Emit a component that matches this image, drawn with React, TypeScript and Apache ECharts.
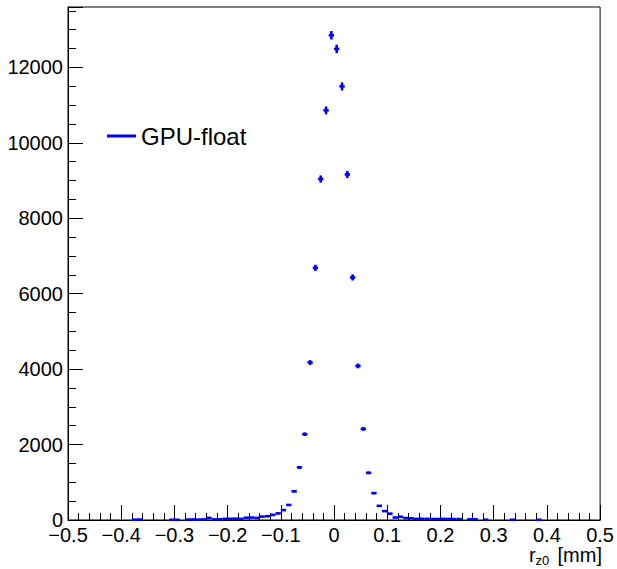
import React, { useEffect, useRef } from "react";
import * as echarts from "echarts";

// Histogram: 100 bins of width 0.01 from -0.5 to 0.5 (counts)
const BIN_LOW = -0.5;
const BIN_WIDTH = 0.01;
const counts = [
  0, 0, 0, 0, 0, 0, 0, 0, 0, 0,
  0, 0, 8, 12, 0, 0, 0, 0, 0, 6,
  6, 0, 12, 15, 10, 15, 55, 15, 18, 30,
  32, 35, 30, 60, 65, 55, 90, 100, 135, 175,
  262, 398, 760, 1395, 2275, 4175, 6685, 9040, 10860, 12850,
  12490, 11495, 9160, 6430, 4085, 2415, 1250, 712, 375, 235,
  168, 66, 85, 50, 45, 30, 32, 30, 25, 26,
  30, 28, 25, 24, 0, 20, 20, 0, 8, 0,
  0, 0, 0, 6, 0, 0, 0, 0, 6, 0,
  0, 0, 0, 0, 0, 0, 0, 0, 0, 0,
];
const seriesName = "GPU-float";
const xMin = -0.5;
const xMax = 0.5;
const xInterval = 0.1;
const yMin = 0;
const yMax = 13600;
const yInterval = 2000;
const yMinorInterval = 500;

const FONT = '"Liberation Sans", Arial, Helvetica, sans-serif';
const BLUE = "#0000ff";

function fmtX(v: number): string {
  const r = Math.round(v * 10) / 10;
  if (Math.abs(r) < 1e-9) return "0";
  const s = Math.abs(r).toFixed(1);
  return r < 0 ? "\u2212" + s : s;
}

export default function App() {
  const ref = useRef<HTMLDivElement>(null);
  useEffect(() => {
    if (!ref.current) return;
    const chart = echarts.init(ref.current, undefined, { renderer: "svg" });
    const data: number[][] = [];
    counts.forEach((c, i) => {
      if (c > 0) {
        const center = BIN_LOW + BIN_WIDTH * (i + 0.5);
        data.push([center, c, Math.sqrt(c)]);
      }
    });
    const half = BIN_WIDTH / 2;
    chart.setOption({
      animation: false,
      grid: {
        left: 68,
        right: 16,
        top: 7,
        bottom: 49,
        show: true,
        borderColor: "#000",
        borderWidth: 1,
        backgroundColor: "transparent",
      },
      legend: {
        show: true,
        left: 107,
        top: 124,
        padding: 0,
        itemWidth: 29,
        itemHeight: 3,
        data: [{ name: seriesName, icon: "rect" }],
        itemStyle: { color: BLUE },
        textStyle: { fontSize: 24, color: "#000", fontFamily: FONT },
      },
      xAxis: {
        type: "value",
        min: xMin,
        max: xMax,
        interval: xInterval,
        axisLine: { show: true, onZero: false, lineStyle: { color: "#000", width: 1 } },
        axisTick: { show: true, inside: true, length: 15, lineStyle: { color: "#000" } },
        minorTick: { show: true, splitNumber: 5, length: 7, lineStyle: { color: "#000" } },
        splitLine: { show: false },
        axisLabel: {
          margin: 5,
          fontSize: 20,
          color: "#000",
          fontFamily: FONT,
          formatter: (v: number) => fmtX(v),
        },
      },
      yAxis: [
        {
          type: "value",
          min: yMin,
          max: yMax,
          interval: yInterval,
          position: "left",
          axisLine: { show: true, onZero: false, lineStyle: { color: "#000", width: 1 } },
          axisTick: { show: true, inside: true, length: 15, lineStyle: { color: "#000" } },
          splitLine: { show: false },
          axisLabel: {
            margin: 5,
            fontSize: 20,
            color: "#000",
            fontFamily: FONT,
            formatter: (v: number) => (v % yInterval === 0 ? String(v) : ""),
          },
        },
        {
          type: "value",
          min: yMin,
          max: yMax,
          interval: yMinorInterval,
          position: "left",
          axisLine: { show: false, onZero: false },
          axisTick: { show: true, inside: true, length: 8, lineStyle: { color: "#000" } },
          splitLine: { show: false },
          axisLabel: { show: false },
        },
      ],
      series: [
        {
          type: "custom",
          name: seriesName,
          xAxisIndex: 0,
          yAxisIndex: 0,
          itemStyle: { color: BLUE },
          data,
          renderItem: (_params: any, api: any) => {
            const x = api.value(0);
            const y = api.value(1);
            const e = api.value(2);
            const a = api.coord([x - half, y]);
            const b = api.coord([x + half, y]);
            const c = api.coord([x, y - e]);
            const d = api.coord([x, y + e]);
            return {
              type: "group",
              children: [
                {
                  type: "line",
                  shape: { x1: a[0], y1: a[1], x2: b[0], y2: b[1] },
                  style: { stroke: BLUE, lineWidth: 2.6 },
                },
                {
                  type: "line",
                  shape: { x1: c[0], y1: c[1], x2: d[0], y2: d[1] },
                  style: { stroke: BLUE, lineWidth: 2.6 },
                },
              ],
            };
          },
        },
      ],
      graphic: [
        {
          type: "text",
          x: 529,
          y: 554.5,
          style: {
            text: "r",
            fontSize: 20,
            fontFamily: FONT,
            fill: "#000",
            align: "left",
            verticalAlign: "middle",
          },
        },
        {
          type: "text",
          x: 535.5,
          y: 560,
          style: {
            text: "z0",
            fontSize: 13,
            fontFamily: FONT,
            fill: "#000",
            align: "left",
            verticalAlign: "middle",
          },
        },
        {
          type: "text",
          x: 602,
          y: 554.5,
          style: {
            text: "[mm]",
            fontSize: 20,
            fontFamily: FONT,
            fill: "#000",
            align: "right",
            verticalAlign: "middle",
          },
        },
      ],
    });
    return () => {
      chart.dispose();
    };
  }, []);
  return (
    <div
      ref={ref}
      style={{ position: "absolute", left: 0, top: 0, width: 617, height: 569 }}
    />
  );
}
